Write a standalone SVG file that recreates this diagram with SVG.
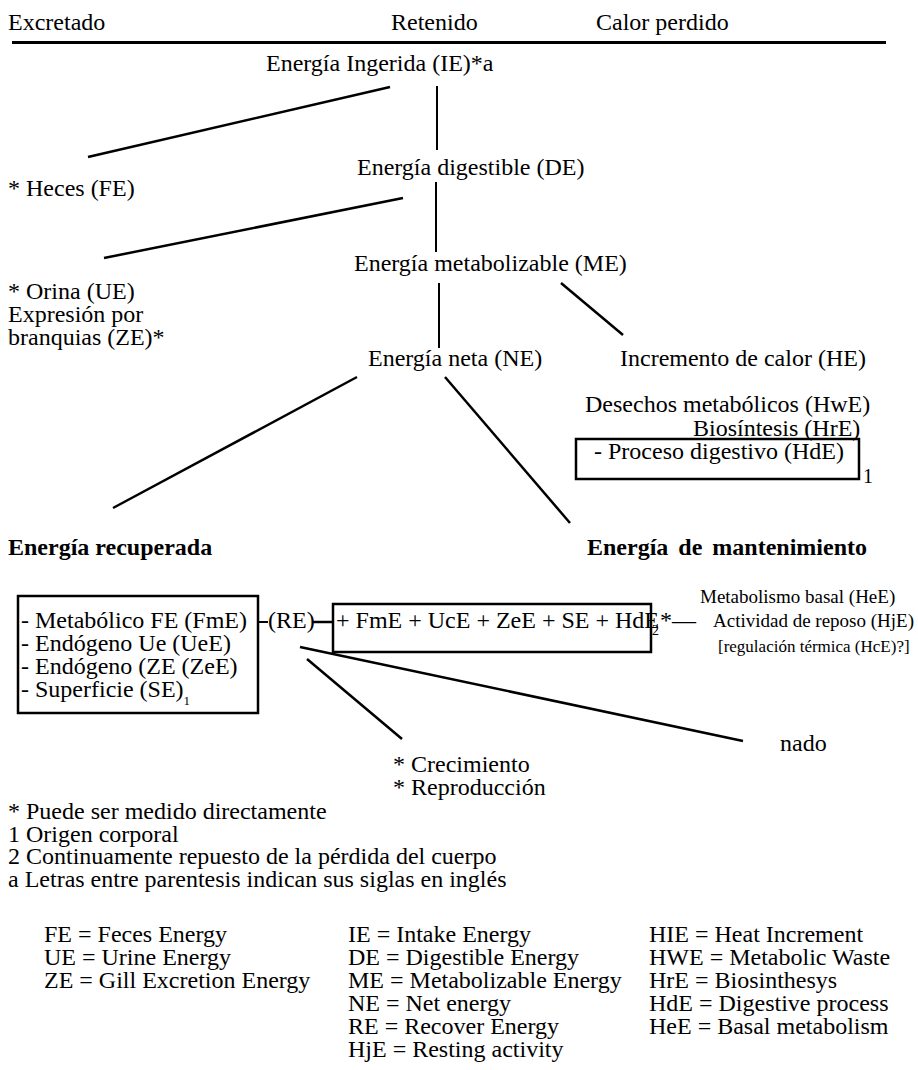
<svg xmlns="http://www.w3.org/2000/svg" width="918" height="1070" viewBox="0 0 918 1070">
<style>
text{font-family:"Liberation Serif","Times New Roman",serif;font-size:24px;fill:#000}
.b{font-weight:bold}
.s19{font-size:19px}
.s17{font-size:17px}
.sub{font-size:13px}
.ln{stroke:#000;stroke-width:2.5;fill:none;stroke-linecap:butt}
.vl{stroke:#000;stroke-width:2;fill:none}
.box{stroke:#000;stroke-width:2.5;fill:none}
</style>
<rect width="918" height="1070" fill="#fff"/>
<g id="header">
<text x="8" y="30">Excretado</text>
<text x="391" y="30">Retenido</text>
<text x="596" y="30">Calor perdido</text>
<line x1="12" y1="42.5" x2="886" y2="42.5" stroke="#000" stroke-width="3"/>
</g>
<g id="connectors">
<line class="ln" x1="390" y1="87" x2="88" y2="157" stroke-width="3"/>
<line class="vl" x1="437" y1="86" x2="437" y2="150"/>
<line class="ln" x1="403" y1="198" x2="104" y2="258" stroke-width="3"/>
<line class="vl" x1="436" y1="182" x2="436" y2="252"/>
<line class="vl" x1="439" y1="283" x2="439" y2="348"/>
<line class="ln" x1="561" y1="283" x2="623" y2="335"/>
<line class="ln" x1="357" y1="377" x2="113" y2="508"/>
<line class="ln" x1="445" y1="377" x2="570" y2="523"/>
<line class="vl" x1="258" y1="622" x2="268" y2="622"/>
<line class="ln" x1="312" y1="622" x2="333" y2="622"/>
<line class="ln" x1="300" y1="647" x2="743" y2="741"/>
<line class="ln" x1="307" y1="659" x2="402" y2="739"/>
</g>
<g id="ie"><text x="266" y="71">Energía Ingerida (IE)*a</text></g>
<g id="fe"><text x="8" y="196">* Heces (FE)</text></g>
<g id="de"><text x="357" y="175">Energía digestible (DE)</text></g>
<g id="ue">
<text x="8" y="299">* Orina (UE)</text>
<text x="8" y="322">Expresión por</text>
<text x="8" y="345">branquias (ZE)*</text>
</g>
<g id="me"><text x="354" y="271">Energía metabolizable (ME)</text></g>
<g id="ne"><text x="368" y="366">Energía neta (NE)</text></g>
<g id="he"><text x="620" y="366">Incremento de calor (HE)</text></g>
<g id="he-detail">
<text x="585" y="412">Desechos metabólicos (HwE)</text>
<text x="693" y="436">Biosíntesis (HrE)</text>
<rect class="box" x="576" y="439" width="283" height="40"/>
<text x="594" y="459">- Proceso digestivo (HdE)</text>
<text x="863" y="483" style="font-size:20px">1</text>
</g>
<g id="recuperada"><text class="b" x="8" y="555">Energía recuperada</text></g>
<g id="mantenimiento"><text class="b" x="587" y="555" word-spacing="4">Energía de mantenimiento</text></g>
<g id="re-box">
<rect class="box" x="18" y="596" width="240" height="117"/>
<text x="21" y="628">- Metabólico FE (FmE)</text>
<text x="21" y="651">- Endógeno Ue (UeE)</text>
<text x="21" y="674">- Endógeno (ZE (ZeE)</text>
<text x="21" y="697">- Superficie (SE)<tspan class="sub" dy="8">1</tspan></text>
</g>
<g id="re"><text x="268" y="628">(RE)</text></g>
<g id="maint-box">
<rect class="box" x="333" y="604" width="318" height="48"/>
<text x="336" y="628">+ FmE + UcE + ZeE + SE + HdE</text>
<text x="652" y="635" style="font-size:14px">2</text>
<text x="660" y="628">*—</text>
</g>
<g id="maint-detail">
<text class="s19" x="700" y="603">Metabolismo basal (HeE)</text>
<text class="s19" x="713" y="627">Actividad de reposo (HjE)</text>
<text class="s17" x="718" y="652">[regulación térmica (HcE)?]</text>
</g>
<g id="nado"><text x="780" y="751">nado</text></g>
<g id="crecimiento">
<text x="393" y="772">* Crecimiento</text>
<text x="393" y="795">* Reproducción</text>
</g>
<g id="footnotes">
<text x="8" y="819">* Puede ser medido directamente</text>
<text x="8" y="842">1 Origen corporal</text>
<text x="8" y="864">2 Continuamente repuesto de la pérdida del cuerpo</text>
<text x="8" y="887">a Letras entre parentesis indican sus siglas en inglés</text>
</g>
<g id="legend">
<text x="44" y="942">FE = Feces Energy</text>
<text x="44" y="965">UE = Urine Energy</text>
<text x="44" y="988">ZE = Gill Excretion Energy</text>
<text x="348" y="942">IE = Intake Energy</text>
<text x="348" y="965">DE = Digestible Energy</text>
<text x="348" y="988">ME = Metabolizable Energy</text>
<text x="348" y="1011">NE = Net energy</text>
<text x="348" y="1034">RE = Recover Energy</text>
<text x="348" y="1057">HjE = Resting activity</text>
<text x="649" y="942">HIE = Heat Increment</text>
<text x="649" y="965">HWE = Metabolic Waste</text>
<text x="649" y="988">HrE = Biosinthesys</text>
<text x="649" y="1011">HdE = Digestive process</text>
<text x="649" y="1034">HeE = Basal metabolism</text>
</g>
</svg>
